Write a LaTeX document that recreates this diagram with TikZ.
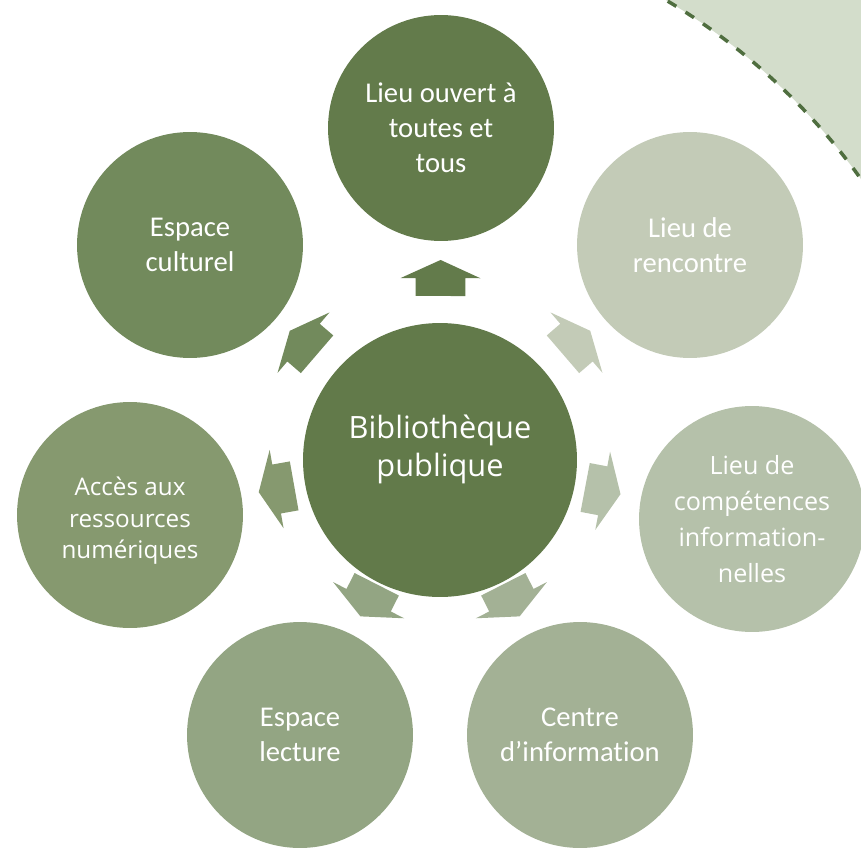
\documentclass[tikz,border=0pt]{standalone}
\usepackage{fontspec}
\setmainfont{Carlito}[Ligatures=NoCommon]
\newfontfamily\opensans{Open Sans}
\usetikzlibrary{calc}
\usetikzlibrary{shapes.arrows}
\definecolor{Hub}{HTML}{627A4A}
\definecolor{Ouvert}{HTML}{637B4B}
\definecolor{Rencontre}{HTML}{C3CBB7}
\definecolor{Competences}{HTML}{B5C1AA}
\definecolor{Info}{HTML}{A3B195}
\definecolor{Lecture}{HTML}{93A583}
\definecolor{Numerique}{HTML}{86996F}
\definecolor{Culturel}{HTML}{728A5C}
\definecolor{Corner}{HTML}{D3DDCB}
\definecolor{CornerLine}{HTML}{4F6E3F}
% lines of a disc with some extra depth (negative: text goes down)
\newcommand{\lift}[2]{\raisebox{0pt}[\height][\dimexpr\depth+#1\relax]{%
    \begin{tabular}{@{}c@{}}#2\end{tabular}}}
\tikzset{
  % one pixel of the slide is one unit
  pixels/.style={x=.02cm,y=-.02cm},
  % discs of the radial diagram
  spot/.style={circle,fill=#1,text=white,inner sep=0pt,align=center,
    minimum size=4.52cm,font=\fontsize{16.3}{20}\selectfont},
  hub/.style={spot=#1,minimum size=5.48cm,
    font=\opensans\fontsize{17.5}{21.5}\selectfont},
  % block arrows from the hub out to every disc
  flow/.style={single arrow,fill=#1,draw=none,sloped,allow upside down,
    minimum height=.72cm,inner xsep=0pt,inner ysep=.49cm,
    single arrow head extend=.3cm,single arrow tip angle=131},
  corner/.style={fill=Corner,even odd rule},
  cornerline/.style={CornerLine,line width=2pt,dash pattern=on 5.7pt off 6.2pt},
}
\begin{document}
\begin{tikzpicture}[pixels]
  \useasboundingbox (0,0) rectangle (861,848);
  % light corner at the top right
  \begin{scope}
    \clip (600,0) rectangle (861,260);
    \fill[corner] (500,-100) rectangle (1000,400) (343,548) circle[radius=12.72cm];
    \draw[cornerline] (343,548) circle[radius=12.72cm];
  \end{scope}
  \node[hub=Hub] (bib) at (440,460) {\lift{11.3pt}{Biblioth\`eque\\publique}};
  \node[spot=Ouvert] (ouvert) at (441,128) {Lieu ouvert \`a\\toutes et\\tous};
  \node[spot=Rencontre] (rencontre) at (690,245) {Lieu de\\rencontre};
  \node[spot=Competences,font=\opensans\fontsize{14.3}{20.4}\selectfont]
    (competences) at (752,519) {Lieu de\\comp\'etences\\information-\\nelles};
  \node[spot=Info] (info) at (580,735) {Centre\\d’information};
  \node[spot=Lecture] (lecture) at (300,735) {Espace\\lecture};
  \node[spot=Numerique,font=\opensans\fontsize{13.8}{18}\selectfont]
    (numerique) at (130,515) {\lift{-6.8pt}{Acc\`es aux\\ressources\\num\'eriques}};
  \node[spot=Culturel] (culturel) at (190,245) {Espace\\culturel};
  \path (bib) -- node[flow=Ouvert,pos=.48] (a1) {} (ouvert);
  \path (bib) -- node[flow=Rencontre,pos=.47] (a2) {} (rencontre);
  \path (bib) -- node[flow=Competences,pos=.34] (a3) {} (competences);
  \path (bib) -- node[flow=Info,pos=.25] (a4) {} (info);
  \path (bib) -- node[flow=Lecture,pos=.25] (a5) {} (lecture);
  \path (bib) -- node[flow=Numerique,pos=.36] (a6) {} (numerique);
  \path (bib) -- node[flow=Culturel,pos=.47] (a7) {} (culturel);
\end{tikzpicture}
\end{document}
